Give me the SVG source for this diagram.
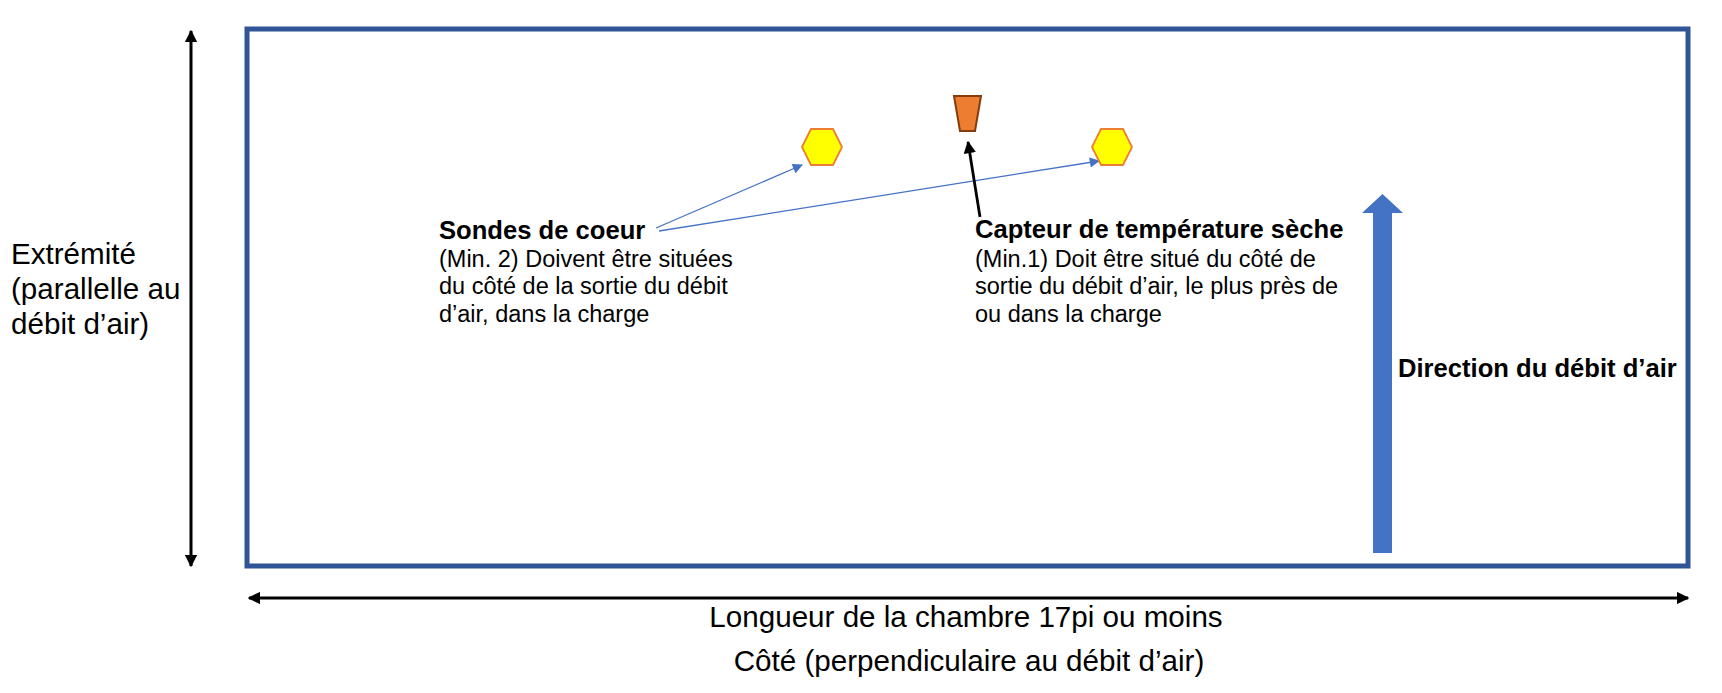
<svg xmlns="http://www.w3.org/2000/svg" width="1722" height="693" viewBox="0 0 1722 693">
<defs>
<style>
.t{font-family:"Liberation Sans",Arial,sans-serif;fill:#000}
.big{font-size:29.6px}
.b{font-size:25.6px;font-weight:bold}
.n{font-size:23.5px}
.dim{stroke:#000;stroke-width:3;fill:none}
.thin{stroke:#4472C4;stroke-width:1.3;fill:none}
.hex{fill:#FFFF00;stroke:#ED7D31;stroke-width:1.8}
</style>
<marker id="ah" viewBox="0 0 10 10" refX="9" refY="5" markerWidth="4.3" markerHeight="4.2" orient="auto-start-reverse" markerUnits="strokeWidth">
<path d="M0,0 L10,5 L0,10 z" fill="#000"/>
</marker>
<marker id="bh" viewBox="0 0 10 10" refX="9" refY="5" markerWidth="9.5" markerHeight="7.8" orient="auto" markerUnits="strokeWidth">
<path d="M0,0 L10,5 L0,10 z" fill="#4472C4"/>
</marker>
<marker id="kh" viewBox="0 0 10 10" refX="9" refY="5" markerWidth="4.6" markerHeight="4.4" orient="auto" markerUnits="strokeWidth">
<path d="M0,0 L10,5 L0,10 z" fill="#000"/>
</marker>
</defs>
<rect width="1722" height="693" fill="#fff"/>

<g id="chamber">
<rect x="247" y="29" width="1441" height="537" fill="none" stroke="#2F5597" stroke-width="5"/>
</g>

<g id="connectors">
<line class="dim" x1="191" y1="31" x2="191" y2="566" marker-start="url(#ah)" marker-end="url(#ah)"/>
<line class="dim" x1="249" y1="598" x2="1688" y2="598" marker-start="url(#ah)" marker-end="url(#ah)"/>
<line class="thin" x1="656" y1="228" x2="802" y2="165" marker-end="url(#bh)"/>
<line class="thin" x1="659" y1="231" x2="1099" y2="161" marker-end="url(#bh)"/>
<line x1="980" y1="217" x2="968" y2="142" stroke="#000" stroke-width="2.8" marker-end="url(#kh)"/>
</g>

<g id="probe1">
<polygon class="hex" points="802,147 811,129 833,129 842,147 833,165 811,165"/>
</g>
<g id="probe2">
<polygon class="hex" points="1092,147 1101,129 1123,129 1132,147 1123,165 1101,165"/>
</g>
<g id="sensor">
<polygon points="954,96 981,96 975,131 960,131" fill="#ED7D31" stroke="#843C0C" stroke-width="2"/>
</g>

<g id="airflow">
<polygon points="1373,553 1373,213 1362,213 1382.5,194 1403,213 1392,213 1392,553" fill="#4472C4"/>
<text class="t b" x="1398" y="377">Direction du débit d’air</text>
</g>

<g id="label-sondes">
<text class="t b" x="439" y="239">Sondes de coeur</text>
<text class="t n" x="439" y="266.5">(Min. 2) Doivent être situées</text>
<text class="t n" x="439" y="294">du côté de la sortie du débit</text>
<text class="t n" x="439" y="321.5">d’air, dans la charge</text>
</g>

<g id="label-capteur">
<text class="t b" x="975" y="238">Capteur de température sèche</text>
<text class="t n" x="975" y="266.5">(Min.1) Doit être situé du côté de</text>
<text class="t n" x="975" y="294">sortie du débit d’air, le plus près de</text>
<text class="t n" x="975" y="321.5">ou dans la charge</text>
</g>

<g id="label-extremite">
<text class="t big" x="11" y="264">Extrémité</text>
<text class="t big" x="11" y="299">(parallelle au</text>
<text class="t big" x="11" y="334">débit d’air)</text>
</g>

<g id="label-length">
<text class="t big" x="966" y="627" text-anchor="middle">Longueur de la chambre 17pi ou moins</text>
<text class="t big" x="969" y="671" text-anchor="middle">Côté (perpendiculaire au débit d’air)</text>
</g>
</svg>
